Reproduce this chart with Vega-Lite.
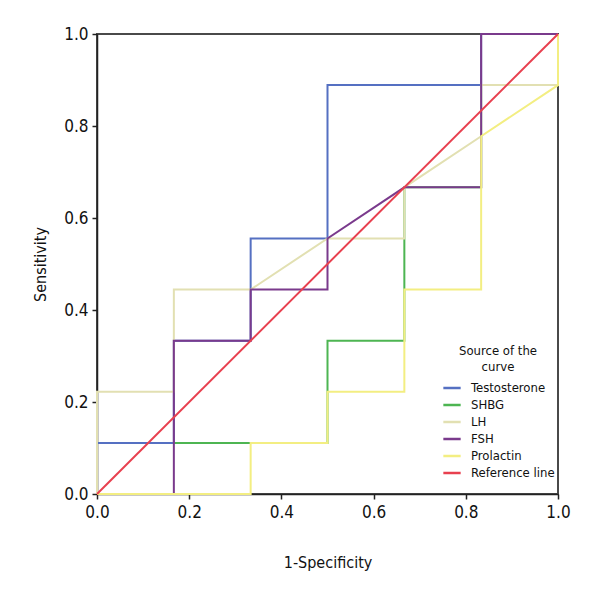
{
  "$schema": "https://vega.github.io/schema/vega-lite/v6.json",
  "width": 461,
  "height": 460,
  "autosize": {"type": "none"},
  "padding": {"left": 97, "top": 34, "right": 42, "bottom": 106},
  "background": "white",
  "config": {
    "view": {"stroke": "#4a4a4a", "strokeWidth": 2},
    "font": "'DejaVu Sans Condensed', Roboto, sans-serif",
    "axis": {"grid": false, "labelFlush": false, "domainColor": "#222", "domainWidth": 1.5, "tickColor": "#222", "tickWidth": 1.5, "tickSize": 5, "labelFont": "'DejaVu Sans Condensed', Roboto, sans-serif", "labelFontSize": 17, "labelColor": "#111", "titleFont": "'DejaVu Sans Condensed', Roboto, sans-serif", "titleFontSize": 16, "titleFontWeight": "normal", "titleColor": "#111"},
    "legend": {"labelFont": "'DejaVu Sans Condensed', Roboto, sans-serif", "titleFont": "'DejaVu Sans Condensed', Roboto, sans-serif"}
  },
  "data": {"values": [
    {"series": "SHBG", "step": 1, "x": 0, "y": 0},
    {"series": "SHBG", "step": 2, "x": 0, "y": 0.1111},
    {"series": "SHBG", "step": 3, "x": 0.5, "y": 0.1111},
    {"series": "SHBG", "step": 4, "x": 0.5, "y": 0.3333},
    {"series": "SHBG", "step": 5, "x": 0.6667, "y": 0.3333},
    {"series": "SHBG", "step": 6, "x": 0.6667, "y": 0.6667},
    {"series": "SHBG", "step": 7, "x": 0.8333, "y": 0.6667},
    {"series": "SHBG", "step": 8, "x": 0.8333, "y": 0.8889},
    {"series": "SHBG", "step": 9, "x": 1, "y": 0.8889},
    {"series": "SHBG", "step": 10, "x": 1, "y": 1},
    {"series": "Testosterone", "step": 1, "x": 0, "y": 0},
    {"series": "Testosterone", "step": 2, "x": 0, "y": 0.1111},
    {"series": "Testosterone", "step": 3, "x": 0.1667, "y": 0.1111},
    {"series": "Testosterone", "step": 4, "x": 0.1667, "y": 0.3333},
    {"series": "Testosterone", "step": 5, "x": 0.3333, "y": 0.3333},
    {"series": "Testosterone", "step": 6, "x": 0.3333, "y": 0.5556},
    {"series": "Testosterone", "step": 7, "x": 0.5, "y": 0.5556},
    {"series": "Testosterone", "step": 8, "x": 0.5, "y": 0.8889},
    {"series": "Testosterone", "step": 9, "x": 0.8333, "y": 0.8889},
    {"series": "Testosterone", "step": 10, "x": 0.8333, "y": 1},
    {"series": "Testosterone", "step": 11, "x": 1, "y": 1},
    {"series": "LH", "step": 1, "x": 0, "y": 0},
    {"series": "LH", "step": 2, "x": 0, "y": 0.2222},
    {"series": "LH", "step": 3, "x": 0.1667, "y": 0.2222},
    {"series": "LH", "step": 4, "x": 0.1667, "y": 0.4444},
    {"series": "LH", "step": 5, "x": 0.3333, "y": 0.4444},
    {"series": "LH", "step": 6, "x": 0.5, "y": 0.5556},
    {"series": "LH", "step": 7, "x": 0.6667, "y": 0.5556},
    {"series": "LH", "step": 8, "x": 0.6667, "y": 0.6667},
    {"series": "LH", "step": 9, "x": 0.8333, "y": 0.7778},
    {"series": "LH", "step": 10, "x": 0.8333, "y": 0.8889},
    {"series": "LH", "step": 11, "x": 1, "y": 0.8889},
    {"series": "LH", "step": 12, "x": 1, "y": 1},
    {"series": "FSH", "step": 1, "x": 0, "y": 0},
    {"series": "FSH", "step": 2, "x": 0.1667, "y": 0},
    {"series": "FSH", "step": 3, "x": 0.1667, "y": 0.3333},
    {"series": "FSH", "step": 4, "x": 0.3333, "y": 0.3333},
    {"series": "FSH", "step": 5, "x": 0.3333, "y": 0.4444},
    {"series": "FSH", "step": 6, "x": 0.5, "y": 0.4444},
    {"series": "FSH", "step": 7, "x": 0.5, "y": 0.5556},
    {"series": "FSH", "step": 8, "x": 0.6667, "y": 0.6667},
    {"series": "FSH", "step": 9, "x": 0.8333, "y": 0.6667},
    {"series": "FSH", "step": 10, "x": 0.8333, "y": 1},
    {"series": "FSH", "step": 11, "x": 1, "y": 1},
    {"series": "Prolactin", "step": 1, "x": 0, "y": 0},
    {"series": "Prolactin", "step": 2, "x": 0.3333, "y": 0},
    {"series": "Prolactin", "step": 3, "x": 0.3333, "y": 0.1111},
    {"series": "Prolactin", "step": 4, "x": 0.5, "y": 0.1111},
    {"series": "Prolactin", "step": 5, "x": 0.5, "y": 0.2222},
    {"series": "Prolactin", "step": 6, "x": 0.6667, "y": 0.2222},
    {"series": "Prolactin", "step": 7, "x": 0.6667, "y": 0.4444},
    {"series": "Prolactin", "step": 8, "x": 0.8333, "y": 0.4444},
    {"series": "Prolactin", "step": 9, "x": 0.8333, "y": 0.7778},
    {"series": "Prolactin", "step": 10, "x": 1, "y": 0.8889},
    {"series": "Prolactin", "step": 11, "x": 1, "y": 1},
    {"series": "Reference line", "step": 1, "x": 0, "y": 0},
    {"series": "Reference line", "step": 2, "x": 1, "y": 1}
  ]},
  "mark": {"type": "line", "strokeWidth": 2, "clip": false},
  "encoding": {
    "x": {"field": "x", "type": "quantitative", "scale": {"domain": [0, 1], "nice": false, "zero": false},
      "axis": {"values": [0, 0.2, 0.4, 0.6, 0.8, 1], "format": ".1f", "title": "1-Specificity", "labelPadding": 5, "titleY": 68, "titleBaseline": "middle"}},
    "y": {"field": "y", "type": "quantitative", "scale": {"domain": [0, 1], "nice": false, "zero": false},
      "axis": {"values": [0, 0.2, 0.4, 0.6, 0.8, 1], "format": ".1f", "title": "Sensitivity", "labelPadding": 4, "titleX": -57, "titleY": 230, "titleAngle": -90, "titleAlign": "center", "titleBaseline": "middle"}},
    "order": {"field": "step", "type": "quantitative"},
    "color": {"field": "series", "type": "nominal",
      "scale": {"domain": ["Testosterone", "SHBG", "LH", "FSH", "Prolactin", "Reference line"],
                "range": ["#5570c2", "#4db552", "#e2e0b2", "#7a3a8c", "#f3ee82", "#e8404f"]},
      "legend": {"title": ["Source of the", "curve"], "orient": "none", "legendX": 345, "legendY": 311,
        "titleFontSize": 13, "titleFontWeight": "normal", "titleColor": "#111", "titleAlign": "center", "titleAnchor": "middle", "titleLineHeight": 16, "titlePadding": 4,
        "labelFontSize": 13, "labelColor": "#111", "labelOffset": 9,
        "symbolType": "stroke", "symbolSize": 300, "symbolStrokeWidth": 2.5, "rowPadding": 0, "padding": 0}}
  }
}
